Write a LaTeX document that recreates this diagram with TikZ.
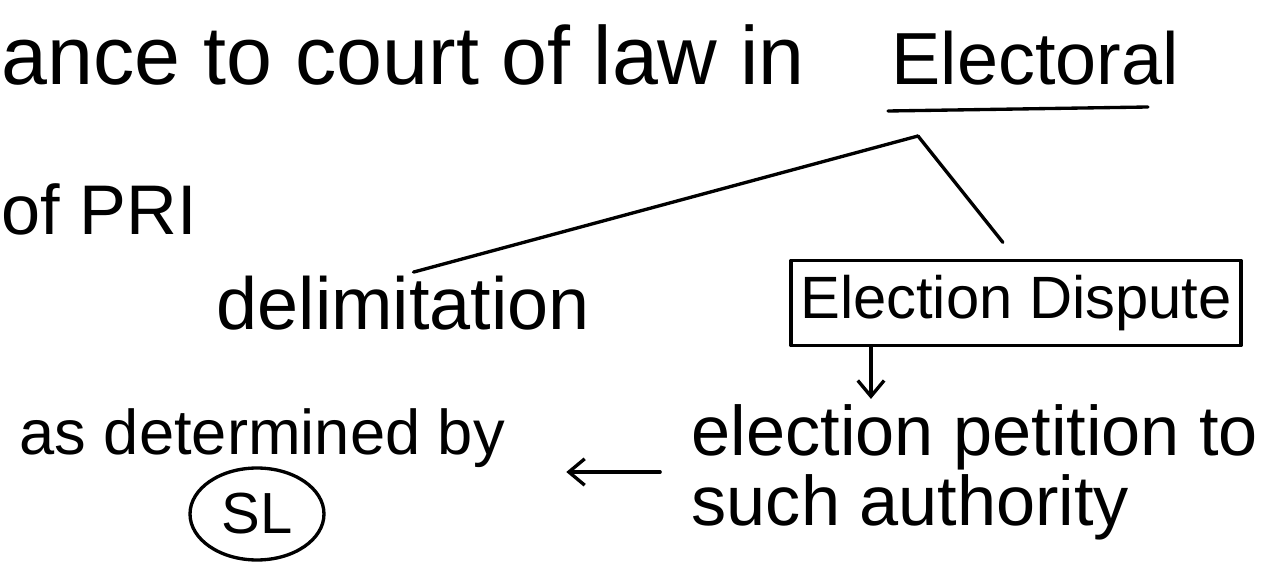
\documentclass[tikz,border=0pt]{standalone}
\usepackage{fontspec}
\setmainfont{Liberation Sans}
\usetikzlibrary{arrows.meta,calc,positioning,shapes.geometric}

\begin{document}
\begin{tikzpicture}[x=0.02cm, y=-0.02cm, line join=round, line cap=round,
    line width=1.9pt,
    hand/.style={font=\fontsize{#1}{#1}\selectfont, inner sep=0pt},
    barb/.style={-{Straight Barb[length=9pt,width=15pt]}}]
    \useasboundingbox (0,0) rectangle (1278,563);

    % heading, cut at the left edge
    \node[hand=47, anchor=base west] (head) at (0,85) {ance to court of law in};
    \node[hand=42, anchor=base west] (electoral) at (890,85) {Electoral};
    \draw (888,111) -- (1148,107);
    \node[hand=40, anchor=base west] (pri) at (0,235) {of PRI};

    % the two branches
    \coordinate (split) at (918,136);
    \node[hand=42, anchor=base west] (delim) at (215,330) {delimitation};
    \node[hand=34, draw, minimum width=9cm, minimum height=1.7cm] (dispute) at (1016,303) {Election Dispute};
    \draw[shorten >=6pt] (split) -- (delim.north);
    \draw[shorten >=12pt] (split) -- (dispute.north);

    % what follows a dispute
    \node[hand=40, anchor=west, align=left] (petition) at (690,472) {election petition to\\[0pt]such authority};
    \node[hand=36, anchor=base west] (det) at (18,455) {as determined by};
    \node[hand=33, draw, ellipse, minimum width=2.68cm, minimum height=1.84cm] (sl) at (257,514) {SL};

    \coordinate (drop) at ($(dispute.south west)!0.18!(dispute.south east)$);
    \draw[barb, shorten >=2pt] (drop) -- (drop |- petition.north);
    \draw[barb, shorten <=17pt, shorten >=34pt] (petition.west) -- (det.east |- petition.west);
\end{tikzpicture}
\end{document}
